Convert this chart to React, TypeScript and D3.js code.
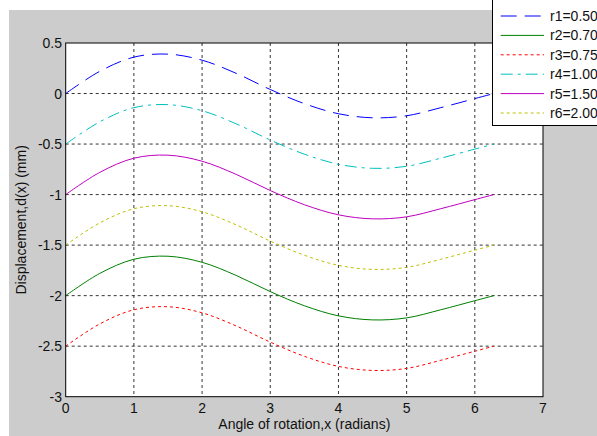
import React from 'react';
import * as d3 from 'd3';

const W = 597;
const H = 436;
const plot = { left: 65.7, right: 543, top: 43, bottom: 396.7 };

const xValues = [0, 0.5, 1, 1.5, 2, 2.5, 3, 3.5, 4, 4.5, 5, 5.5, 6, 6.28];
const r1 = [0, 0.22, 0.36, 0.39, 0.33, 0.2, 0.04, -0.1, -0.2, -0.24, -0.22, -0.14, -0.05, 0];
const r2 = [-2, -1.78, -1.64, -1.61, -1.67, -1.8, -1.96, -2.1, -2.2, -2.24, -2.22, -2.14, -2.05, -2];
const r3 = [-2.5, -2.28, -2.14, -2.11, -2.17, -2.3, -2.46, -2.6, -2.7, -2.74, -2.72, -2.64, -2.55, -2.5];
const r4 = [-0.5, -0.28, -0.14, -0.11, -0.17, -0.3, -0.46, -0.6, -0.7, -0.74, -0.72, -0.64, -0.55, -0.5];
const r5 = [-1, -0.78, -0.64, -0.61, -0.67, -0.8, -0.96, -1.1, -1.2, -1.24, -1.22, -1.14, -1.05, -1];
const r6 = [-1.5, -1.28, -1.14, -1.11, -1.17, -1.3, -1.46, -1.6, -1.7, -1.74, -1.72, -1.64, -1.55, -1.5];

const seriesNames = ['r1=0.50', 'r2=0.70', 'r3=0.75', 'r4=1.00', 'r5=1.50', 'r6=2.00'];
const seriesValues = [r1, r2, r3, r4, r5, r6];
const colors = ['#0000ff', '#008000', '#ff0000', '#00bfbf', '#bf00bf', '#bfbf00'];
const dashes = ['16,8', '', '3,3', '12,5,3,5', '', '3,3'];

const xTicks = [0, 1, 2, 3, 4, 5, 6, 7];
const yTicks = [0.5, 0, -0.5, -1, -1.5, -2, -2.5, -3];

const font = 'Arial, "Liberation Sans", sans-serif';
const fs = 14;

export default function App() {
  const x = d3.scaleLinear().domain([0, 7]).range([plot.left, plot.right]);
  const y = d3.scaleLinear().domain([-3, 0.5]).range([plot.bottom, plot.top]);

  const line = d3
    .line<number>()
    .x((d, i) => x(xValues[i]))
    .y(d => y(d))
    .curve(d3.curveCatmullRom);

  const legendTop = 16;
  const legendStep = 19.4;

  return (
    <svg width={W} height={H} style={{ position: 'absolute', left: 0, top: 0, fontFamily: font }}>
      <rect x={0} y={0} width={W} height={H} fill="#fff" />
      <rect x={9} y={10} width={W - 9} height={H - 10} fill="#cccccc" />
      <rect
        x={plot.left}
        y={plot.top}
        width={plot.right - plot.left}
        height={plot.bottom - plot.top}
        fill="#fff"
      />
      {/* grid */}
      {xTicks.slice(1, -1).map(t => (
        <line
          key={'gx' + t}
          x1={x(t)}
          x2={x(t)}
          y1={plot.top}
          y2={plot.bottom}
          stroke="#333"
          strokeDasharray="3,3"
        />
      ))}
      {yTicks.slice(1, -1).map(t => (
        <line
          key={'gy' + t}
          x1={plot.left}
          x2={plot.right}
          y1={y(t)}
          y2={y(t)}
          stroke="#333"
          strokeDasharray="3,3"
        />
      ))}
      {/* curves */}
      {seriesValues.map((vals, i) => (
        <path
          key={seriesNames[i]}
          d={line(vals) || ''}
          fill="none"
          stroke={colors[i]}
          strokeWidth={1}
          strokeDasharray={dashes[i] || undefined}
        />
      ))}
      {/* box */}
      <rect
        x={plot.left}
        y={plot.top}
        width={plot.right - plot.left}
        height={plot.bottom - plot.top}
        fill="none"
        stroke="#000"
        strokeWidth={1}
      />
      {/* tick labels */}
      {xTicks.map(t => (
        <text key={'tx' + t} x={x(t)} y={413} textAnchor="middle" fontSize={fs} fill="#111">
          {t}
        </text>
      ))}
      {yTicks.map(t => (
        <text key={'ty' + t} x={62} y={y(t) + 5} textAnchor="end" fontSize={fs} fill="#111">
          {t}
        </text>
      ))}
      <text x={(plot.left + plot.right) / 2} y={429} textAnchor="middle" fontSize={fs} fill="#111">
        Angle of rotation,x (radians)
      </text>
      <text
        transform={`translate(26, ${(plot.top + plot.bottom) / 2}) rotate(-90)`}
        textAnchor="middle"
        fontSize={fs}
        fill="#111"
      >
        Displacement,d(x) (mm)
      </text>
      {/* legend */}
      <rect x={492.5} y={-5} width={150} height={130.5} fill="#fff" stroke="#000" strokeWidth={1} />
      {seriesNames.map((name, i) => (
        <g key={'lg' + name} transform={`translate(0, ${legendTop + i * legendStep})`}>
          <line
            x1={500.7}
            x2={544}
            y1={0}
            y2={0}
            stroke={colors[i]}
            strokeDasharray={dashes[i] || undefined}
          />
          <text x={550} y={5} fontSize={fs} fill="#111">
            {name}
          </text>
        </g>
      ))}
    </svg>
  );
}
